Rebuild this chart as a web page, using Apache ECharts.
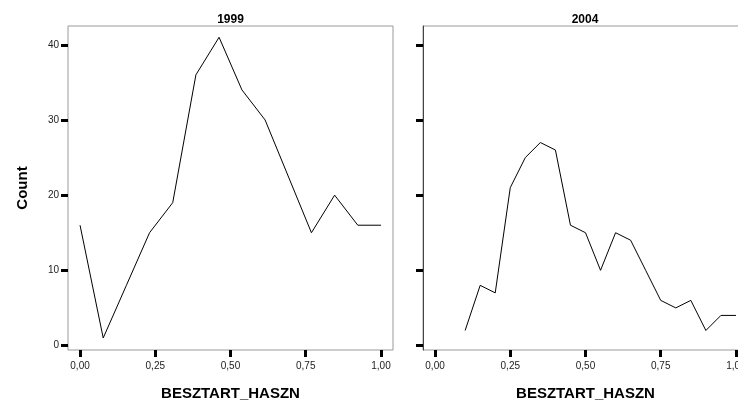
<!DOCTYPE html>
<html>
<head>
<meta charset="utf-8">
<script src="https://cdn.jsdelivr.net/npm/echarts@6/dist/echarts.min.js"></script>
<style>html,body{margin:0;padding:0;background:#fff}#c{width:738px;height:401px}</style>
</head>
<body>
<div id="c"></div>
<script>
var panelTitles = ['1999', '2004'];
var xName = 'BESZTART_HASZN';
var yName = 'Count';
var xTicks = [0, 0.25, 0.5, 0.75, 1];
var yTicks = [0, 10, 20, 30, 40];
var x1999 = [0.00, 0.077, 0.154, 0.231, 0.308, 0.385, 0.462, 0.538, 0.615, 0.769, 0.846, 0.923, 1.00];
var y1999 = [16, 1, 8, 15, 19, 36, 41, 34, 30, 15, 20, 16, 16];
var x2004 = [0.10, 0.15, 0.20, 0.25, 0.30, 0.35, 0.40, 0.45, 0.50, 0.55, 0.60, 0.65, 0.70, 0.75, 0.80, 0.85, 0.90, 0.95, 1.00];
var y2004 = [2, 8, 7, 21, 25, 27, 26, 16, 15, 10, 15, 14, 10, 6, 5, 6, 2, 4, 4];

function pairs(xs, ys) { return xs.map(function (x, i) { return [x, ys[i]]; }); }
var FONT = 'Liberation Sans, Arial, sans-serif';
function fmtX(v) { return v.toFixed(2).replace('.', ','); }

function xAxisFor(idx) {
  return {
    type: 'value', gridIndex: idx, min: -0.04, max: 1.04,
    name: xName, nameLocation: 'middle', nameGap: 36,
    nameTextStyle: { fontFamily: FONT, fontSize: 15, fontWeight: 'bold', color: '#000' },
    axisLine: { show: false, onZero: false },
    splitLine: { show: false },
    axisTick: { show: true, inside: false, customValues: xTicks, length: 7, lineStyle: { color: '#000', width: 3 } },
    axisLabel: { show: true, customValues: xTicks, formatter: fmtX, margin: 11, fontFamily: FONT, fontSize: 10, color: '#222' }
  };
}
function yAxisFor(idx) {
  return {
    type: 'value', gridIndex: idx, min: -0.6, max: 42.5,
    name: idx === 0 ? yName : '', nameLocation: 'middle', nameGap: 38, nameRotate: 90,
    nameTextStyle: { fontFamily: FONT, fontSize: 15, fontWeight: 'bold', color: '#000' },
    axisLine: { show: idx === 1, onZero: false, lineStyle: { color: '#444', width: 1 } },
    splitLine: { show: false },
    axisTick: { show: true, inside: false, customValues: yTicks, length: 7, lineStyle: { color: '#000', width: 3 } },
    axisLabel: { show: idx === 0, customValues: yTicks, margin: 9, fontFamily: FONT, fontSize: 10, color: '#222' }
  };
}

var chart = echarts.init(document.getElementById('c'), null, { renderer: 'canvas' });
chart.setOption({
  backgroundColor: '#fff',
  animation: false,
  title: [
    { text: panelTitles[0], left: 230.5, top: 14, padding: 0, textAlign: 'center', textStyle: { fontFamily: FONT, fontSize: 12, fontWeight: 'bold', color: '#000' } },
    { text: panelTitles[1], left: 585, top: 14, padding: 0, textAlign: 'center', textStyle: { fontFamily: FONT, fontSize: 12, fontWeight: 'bold', color: '#000' } }
  ],
  grid: [
    { left: 68, top: 26, width: 325, height: 324, outerBoundsMode: 'none', containLabel: false, show: true, borderColor: '#999', borderWidth: 1, backgroundColor: 'transparent' },
    { left: 423, top: 26, width: 325, height: 324, outerBoundsMode: 'none', containLabel: false, show: true, borderColor: '#999', borderWidth: 1, backgroundColor: 'transparent' }
  ],
  xAxis: [xAxisFor(0), xAxisFor(1)],
  yAxis: [yAxisFor(0), yAxisFor(1)],
  series: [
    { type: 'line', xAxisIndex: 0, yAxisIndex: 0, data: pairs(x1999, y1999), showSymbol: false, lineStyle: { color: '#000', width: 1 }, silent: true },
    { type: 'line', xAxisIndex: 1, yAxisIndex: 1, data: pairs(x2004, y2004), showSymbol: false, lineStyle: { color: '#000', width: 1 }, silent: true }
  ]
});
</script>
</body>
</html>
